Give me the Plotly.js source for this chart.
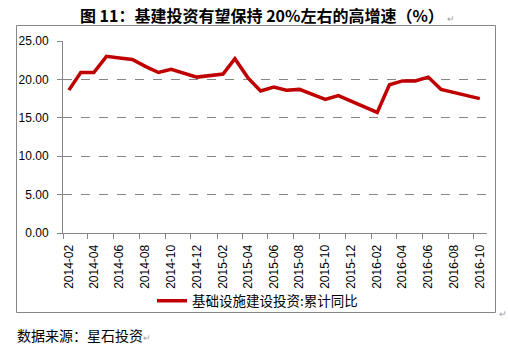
<!DOCTYPE html>
<html>
<head>
<meta charset="utf-8">
<script src="https://cdn.plot.ly/plotly-3.0.1.min.js"></script>
<style>
html,body{margin:0;padding:0;background:#fff;}
#chart{width:508px;height:354px;}
</style>
</head>
<body>
<div id="chart"></div>
<script>
const months = ['2014-02','2014-03','2014-04','2014-05','2014-06','2014-07','2014-08','2014-09','2014-10','2014-11','2014-12',
  '2015-02','2015-03','2015-04','2015-05','2015-06','2015-07','2015-08','2015-09','2015-10','2015-11','2015-12',
  '2016-02','2016-03','2016-04','2016-05','2016-06','2016-07','2016-08','2016-09','2016-10'];
const values = [18.6,20.9,20.9,23.0,22.8,22.6,21.7,20.9,21.3,20.8,20.3,
  20.7,22.7,20.2,18.5,19.0,18.6,18.7,18.0,17.4,17.9,17.2,
  15.7,19.3,19.8,19.8,20.3,18.7,18.3,17.9,17.5];
const tickLabels = ['2014-02','2014-04','2014-06','2014-08','2014-10','2014-12',
  '2015-02','2015-04','2015-06','2015-08','2015-10','2015-12',
  '2016-02','2016-04','2016-06','2016-08','2016-10'];
const seriesName = '基础设施建设投资:累计同比';
const titleText = '图 11：基建投资有望保持 20%左右的高增速（%）';
const sourceText = '数据来源：星石投资';

const FONT = 'Liberation Sans, Arial, Noto Sans CJK SC, sans-serif';
const CJK = 'Noto Sans CJK SC, Liberation Sans, sans-serif';
const GRAY = '#868686';
const mark = '<span style="color:#a0a0a0;font-size:9px;">↵</span>';

const trace = {
  x: months.map(m => m + '-15'),
  y: values,
  type: 'scatter',
  mode: 'lines',
  name: seriesName,
  line: {color: '#C00000', width: 3.5},
  hoverinfo: 'x+y'
};

const layout = {
  width: 508, height: 354,
  margin: {l: 63, r: 21, t: 41, b: 121},
  paper_bgcolor: '#fff', plot_bgcolor: '#fff',
  font: {family: FONT, size: 12, color: '#000'},
  title: {
    text: '<b>' + titleText + '</b> ' + mark,
    x: 0.527, xanchor: 'center',
    y: 1 - 16/354, yanchor: 'middle',
    font: {family: CJK, size: 16, color: '#000'}
  },
  xaxis: {
    type: 'date',
    range: ['2014-02-01', '2016-11-01'],
    tickmode: 'array',
    tickvals: tickLabels.map(m => m + '-15'),
    ticktext: tickLabels,
    tickangle: -90,
    ticks: '',
    ticklabelstandoff: 6,
    showgrid: false,
    showline: true, linecolor: GRAY, linewidth: 1,
    zeroline: false,
    tickfont: {family: FONT, size: 12, color: '#000'},
    minor: {tick0: '2014-02-01', dtick: 'M2', ticks: 'outside', ticklen: 5, tickcolor: GRAY, showgrid: false}
  },
  yaxis: {
    range: [0, 25],
    tickmode: 'linear', tick0: 0, dtick: 5,
    tickformat: '.2f',
    ticks: 'outside', ticklen: 5, tickcolor: GRAY,
    ticklabelstandoff: 6,
    showline: true, linecolor: GRAY, linewidth: 1,
    showgrid: true, gridcolor: GRAY, gridwidth: 1, griddash: 'dash',
    zeroline: false,
    tickfont: {family: FONT, size: 12, color: '#000'}
  },
  showlegend: true,
  legend: {
    orientation: 'h',
    x: (152 - 63) / 424, xanchor: 'left',
    y: (233 - 301) / 192, yanchor: 'middle',
    font: {family: CJK, size: 13.5, color: '#000'},
    bgcolor: 'rgba(0,0,0,0)'
  },
  shapes: [{
    type: 'rect', xref: 'paper', yref: 'paper',
    x0: (16.5 - 63) / 424, x1: (495.5 - 63) / 424,
    y0: (233 - 312.5) / 192, y1: (233 - 25.5) / 192,
    line: {color: GRAY, width: 1}, fillcolor: 'rgba(0,0,0,0)', layer: 'below'
  }],
  annotations: [
    {
      text: sourceText + mark,
      xref: 'paper', yref: 'paper',
      x: (15 - 63) / 424, xanchor: 'left',
      y: (233 - 335) / 192, yanchor: 'middle',
      showarrow: false,
      font: {family: CJK, size: 14, color: '#000'}
    },
    {
      text: mark,
      xref: 'paper', yref: 'paper',
      x: (497 - 63) / 424, xanchor: 'left',
      y: (233 - 314) / 192, yanchor: 'middle',
      showarrow: false
    }
  ]
};

Plotly.newPlot('chart', [trace], layout, {displayModeBar: false, staticPlot: true});
</script>
</body>
</html>
